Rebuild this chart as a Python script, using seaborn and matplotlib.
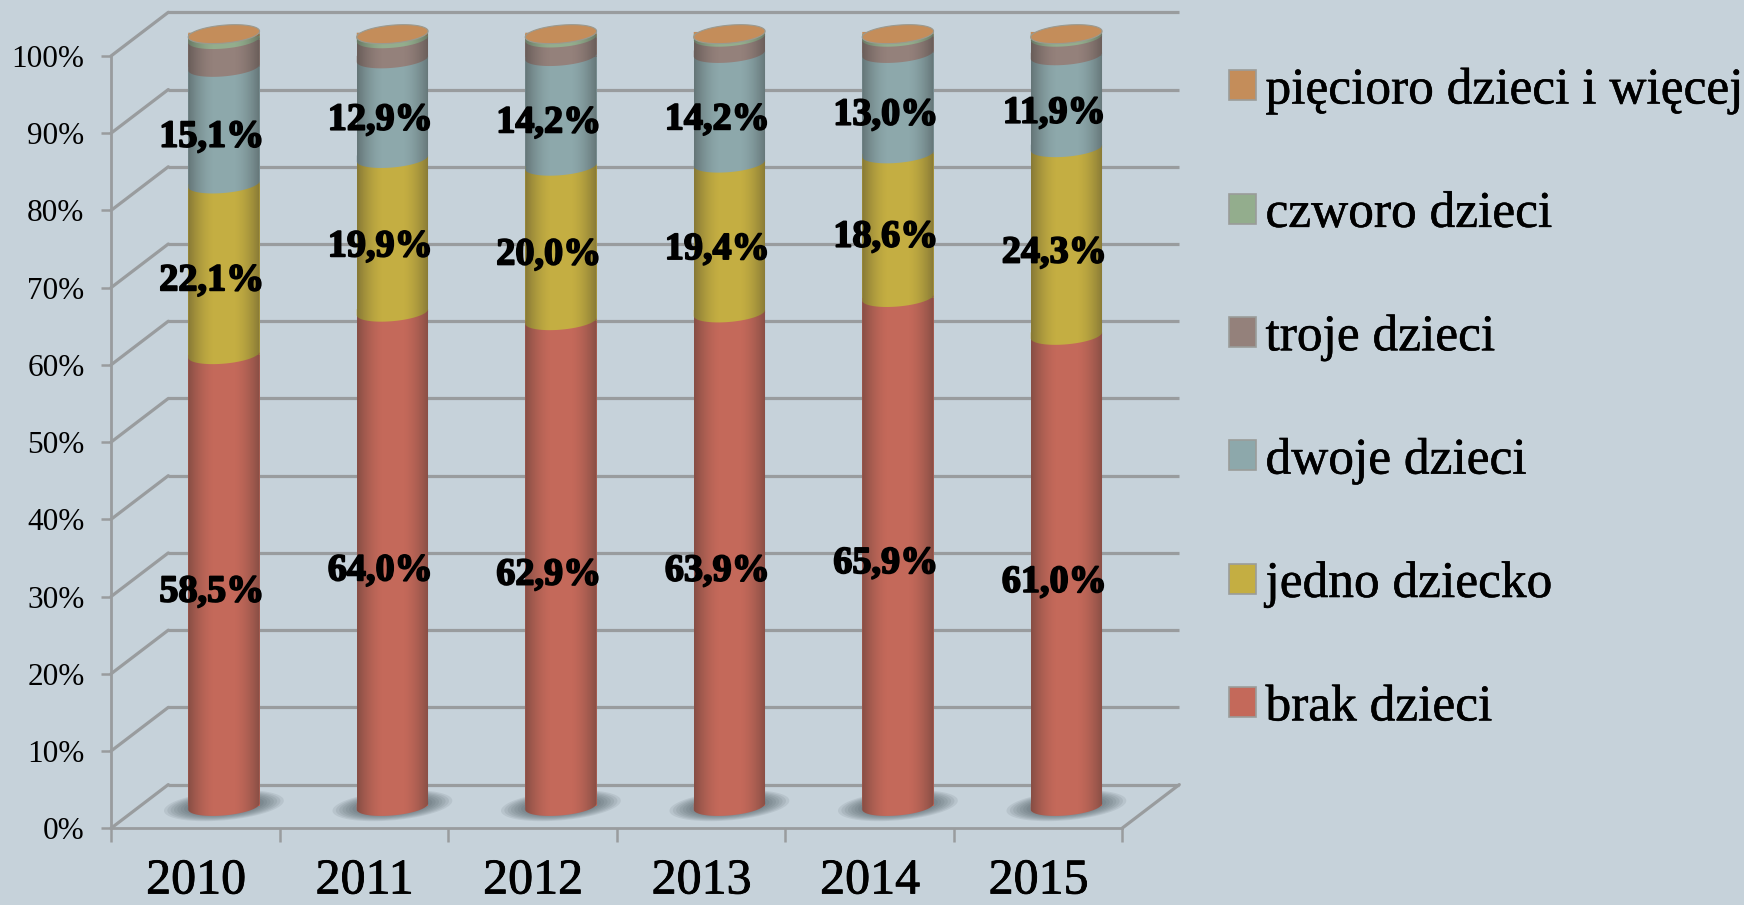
import numpy as np
import pandas as pd
import matplotlib
matplotlib.use("Agg")
import matplotlib.pyplot as plt
import matplotlib.patheffects as pe
from matplotlib.patches import Patch, Polygon
import seaborn as sns

years = ["2010", "2011", "2012", "2013", "2014", "2015"]
series_names = ["brak dzieci", "jedno dziecko", "dwoje dzieci", "troje dzieci",
                "czworo dzieci", "pięcioro dzieci i więcej"]
brak = [58.5, 64.0, 62.9, 63.9, 65.9, 61.0]
jedno = [22.1, 19.9, 20.0, 19.4, 18.6, 24.3]
dwoje = [15.1, 12.9, 14.2, 14.2, 13.0, 11.9]
troje = [3.6, 2.6, 2.4, 2.1, 2.1, 2.4]
czworo = [0.5, 0.4, 0.3, 0.3, 0.3, 0.3]
piecioro = [0.2, 0.2, 0.2, 0.1, 0.1, 0.1]
labelled = ["brak dzieci", "jedno dziecko", "dwoje dzieci"]

colors = ["#C4695A", "#C4AE42", "#8DA8AB", "#94817B", "#93AD8D", "#C48D5A"]
BG = "#C6D2DA"
GRID = "#999C9E"
W, H = 1744, 905

sns.set_theme(style="white", rc={"figure.facecolor": BG, "axes.facecolor": "none"})
plt.rcParams["font.family"] = ["Liberation Serif", "DejaVu Serif"]
plt.rcParams["text.color"] = "black"

df = pd.DataFrame(dict(zip(series_names, [brak, jedno, dwoje, troje, czworo, piecioro])), index=years)
cum = df.cumsum(axis=1)

fig = plt.figure(figsize=(W / 100, H / 100), dpi=100, facecolor=BG)

LEFT, RIGHT, Y0, Y100 = 111.0, 1122.0, 828.3, 56.0
DX, DY = 57.3, 43.7   # depth of the 3D box in pixels


def plane(frac, zorder):
    dx, dy = DX * frac, DY * frac
    ax = fig.add_axes([(LEFT + dx) / W, 1 - (Y0 - dy) / H, (RIGHT - LEFT) / W, (Y0 - Y100) / H],
                      zorder=zorder)
    ax.set_xlim(-0.5, 5.5)
    ax.set_ylim(0, 100)
    ax.patch.set_alpha(0)
    return ax


# back wall
back = plane(1.0, 1)
back.axis("off")
grid_levels = np.arange(0, 101, 10)
back.hlines(grid_levels, -0.5, 5.5, color=GRID, lw=2.3, clip_on=False)

# front axis
front = plane(0.0, 2)
for s in ["top", "right"]:
    front.spines[s].set_visible(False)
for s in ["left", "bottom"]:
    front.spines[s].set_color(GRID)
    front.spines[s].set_linewidth(2.0)
front.set_xticks(np.arange(-0.5, 5.6, 1))
front.set_xticklabels([])
front.set_yticks(grid_levels)
front.set_yticklabels([f"{v}%" for v in grid_levels], fontsize=22.5, color="black")
front.tick_params(axis="y", length=7, width=1.8, color=GRID, pad=12, left=True)
front.tick_params(axis="x", length=10, width=1.8, color=GRID, bottom=True)
for i, y in enumerate(years):
    front.text(i + 0.005, -8.44, y, ha="center", va="baseline", fontsize=36, color="black", clip_on=False,
               path_effects=[pe.withStroke(linewidth=0.6, foreground="black")])
xd, yd = DX / (RIGHT - LEFT) * 6, DY / (Y0 - Y100) * 100
for v in grid_levels:
    front.plot([-0.5, -0.5 + xd], [v, v + yd], color=GRID, lw=2.3, clip_on=False, solid_capstyle="round")
front.plot([5.5, 5.5 + xd], [0, yd], color=GRID, lw=2.3, clip_on=False)

# cylinders on the mid-depth plane
mid = plane(0.5, 3)
BW = 71.3 / ((RIGHT - LEFT) / 6)          # bar width in category units
px_x = (RIGHT - LEFT) / 6
px_y = (Y0 - Y100) / 100
A = BW / 2
B = 9.0 / px_y                            # ellipse half height
TILT = (6.0 / px_y) / (71.3 / px_x)       # rise per category unit
RISE = TILT * A


def ellipse(cx, cy, a=A, b=B, lower_only=False):
    t = np.linspace(np.pi, 2 * np.pi, 80) if lower_only else np.linspace(0, 2 * np.pi, 160)
    x = cx + a * np.cos(t)
    y = cy + b * np.sin(t) + TILT * (x - cx)
    return np.column_stack([x, y])


def boundary(i, cy, upper_color, lower_color, zorder):
    """Curved seam where one cylinder segment sits on the next one down."""
    curve = ellipse(i, cy, lower_only=True)
    cover = np.vstack([curve, [[i + A, cy + RISE]], [[i - A, cy + RISE]]])
    mid.add_patch(Polygon(cover, closed=True, fc=upper_color, ec="none", zorder=zorder, clip_on=False))
    wedge = np.vstack([curve[curve[:, 1] >= cy], [[i + A, cy]]])
    mid.add_patch(Polygon(wedge, closed=True, fc=lower_color, ec="none", zorder=zorder, clip_on=False))


# shadows on the floor
for k in range(16):
    f = 1 - k / 18
    for i in range(6):
        mid.add_patch(Polygon(ellipse(i, 0.1, A * 1.68 * f, 1.9 * f), closed=True, fc="#3F4C52",
                              ec="none", alpha=0.1, zorder=1, clip_on=False))

# stacked columns: tallest first, each one over the next
names_rev = list(reversed(series_names))
z = 2
for j, name in enumerate(names_rev):
    k = len(series_names) - 1 - j
    tmp = pd.DataFrame({"year": years, "value": cum[name].values})
    sns.barplot(data=tmp, x="year", y="value", color=colors[k], saturation=1, width=BW,
                ax=mid, zorder=z, linewidth=0, order=years)
    z += 1
    if k < len(series_names) - 1:
        for i in range(6):
            boundary(i, cum[name].values[i], colors[k + 1], colors[k], z)
    z += 1
for i in range(6):
    lo = ellipse(i, 0, lower_only=True)
    cap = np.vstack([lo, [[i + A, RISE]], [[i - A, RISE]]])
    mid.add_patch(Polygon(cap, closed=True, fc=colors[0], ec="none", zorder=z, clip_on=False))
z += 1

# horizontal cylinder shading, clipped to the outline
xs = np.linspace(-1, 1, 128)
alpha = np.clip(np.abs(xs) - 0.25, 0, None) ** 1.7 * 0.62
shade = np.zeros((1, 128, 4))
shade[0, :, :3] = 0.13
shade[0, :, 3] = alpha
for i in range(6):
    top = cum[series_names[-1]].values[i]
    lo = ellipse(i, 0, lower_only=True)
    outline = np.vstack([lo, [[i + A, top + RISE]], [[i - A, top - RISE]]])
    clip = Polygon(outline, closed=True, transform=mid.transData)
    im = mid.imshow(shade, extent=(i - A, i + A, -3, 103), aspect="auto", zorder=z)
    im.set_clip_box(fig.bbox)
    im.set_clip_path(clip)
mid.set_xlim(-0.5, 5.5)
mid.set_ylim(0, 100)
z += 1

# top caps
for i in range(6):
    mid.add_patch(Polygon(ellipse(i, cum[series_names[-1]].values[i]), closed=True, fc=colors[5],
                          ec="#9A9A90", lw=0.8, zorder=z, clip_on=False))
z += 1

mid.axis("off")

# value labels
stroke = [pe.withStroke(linewidth=1.3, foreground="black")]
for name in labelled:
    tops = cum[name].values
    vals = df[name].values
    for i in range(6):
        mid.annotate(f"{vals[i]:.1f}%".replace(".", ","), (i, tops[i] - vals[i] / 2),
                     xytext=(-12 * 0.72, -11.5 * 0.72), textcoords="offset points",
                     ha="center", va="center", fontsize=27.5, fontweight="bold",
                     color="black", zorder=z, path_effects=stroke, annotation_clip=False)

# legend
handles = [Patch(facecolor=colors[k], edgecolor="#9A9C9A", linewidth=1.2, label=series_names[k])
           for k in range(5, -1, -1)]
leg = fig.legend(handles=handles, loc="upper left", bbox_to_anchor=(1229 / W, 1 - 68 / H),
                 bbox_transform=fig.transFigure, frameon=False, fontsize=37, handlelength=0.52,
                 handleheight=0.52, handletextpad=0.19, labelspacing=1.496, borderpad=0, borderaxespad=0,
                 labelcolor="black")
for t in leg.get_texts():
    t.set_path_effects([pe.withStroke(linewidth=0.4, foreground="black")])

fig.savefig("out.png", dpi=100, facecolor=BG)
